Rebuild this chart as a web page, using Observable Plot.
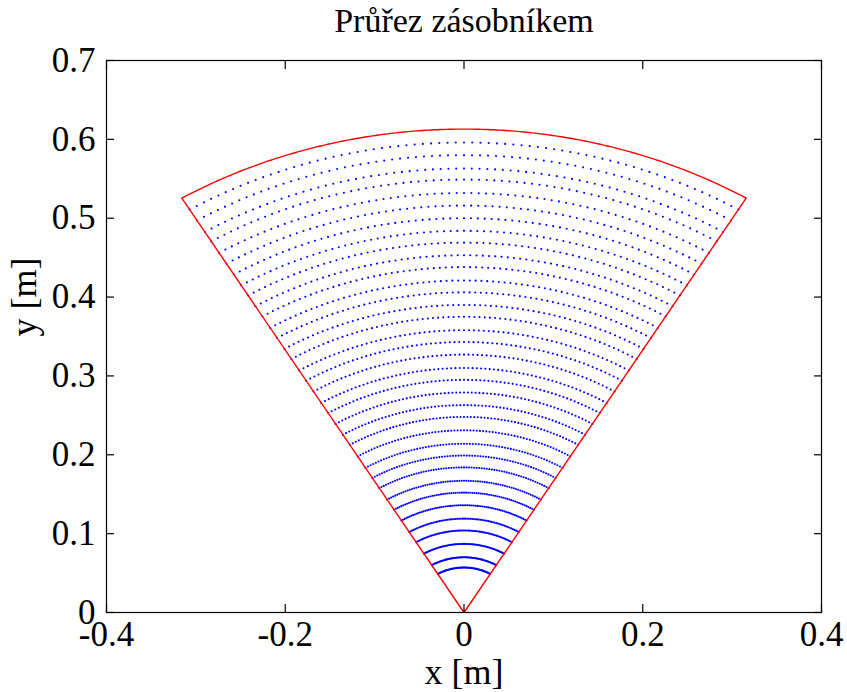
<!DOCTYPE html>
<html>
<head>
<meta charset="utf-8">
<script src="https://cdn.jsdelivr.net/npm/d3@7"></script>
<script src="https://cdn.jsdelivr.net/npm/@observablehq/plot@0.6"></script>
<style>
  html, body { margin: 0; padding: 0; background: #fff; }
  #chart svg { display: block; }
</style>
</head>
<body>
<div id="chart"></div>
<script>
// ---- data ----
const title = "Průřez zásobníkem";
const xLabel = "x [m]";
const yLabel = "y [m]";
const xTicks = [-0.4, -0.2, 0, 0.2, 0.4];
const yTicks = [0, 0.1, 0.2, 0.3, 0.4, 0.5, 0.6, 0.7];
// radii of the blue (layer) arcs, read at x = 0
const layerRadii = [0.596, 0.580, 0.563, 0.549, 0.532, 0.516, 0.500, 0.484, 0.469, 0.453,
  0.438, 0.421, 0.406, 0.390, 0.375, 0.358, 0.343, 0.327, 0.310, 0.295,
  0.279, 0.263, 0.248, 0.231, 0.214, 0.199, 0.184, 0.167, 0.152, 0.136,
  0.119, 0.104, 0.087, 0.070, 0.057];
// outline of the sector (red)
const outerRadius = 0.613;
const halfAngleDeg = 31;
const pointsPerArc = 70;

// ---- geometry built from the values above ----
const toRad = Math.PI / 180;
function arc(r, n) {
  const pts = [];
  for (let i = 0; i <= n; i++) {
    const a = (-halfAngleDeg + (2 * halfAngleDeg) * i / n) * toRad;
    pts.push({x: r * Math.sin(a), y: r * Math.cos(a), r});
  }
  return pts;
}
const layerPoints = layerRadii.flatMap(r => arc(r, pointsPerArc));
const outline = [{x: 0, y: 0}, ...arc(outerRadius, 200), {x: 0, y: 0}];

const font = "'Liberation Serif', 'Times New Roman', serif";

const chart = Plot.plot({
  width: 847,
  height: 692,
  marginLeft: 106,
  marginRight: 26,
  marginTop: 60,
  marginBottom: 80,
  style: {fontFamily: font, background: "white", color: "black"},
  x: {domain: [-0.4, 0.4]},
  y: {domain: [0, 0.7]},
  marks: [
    Plot.dot(layerPoints, {x: "x", y: "y", r: 1.05, fill: "#0000ff", stroke: null}),
    Plot.line(outline, {x: "x", y: "y", stroke: "#ff0000", strokeWidth: 1.4, curve: "linear"}),
    Plot.frame({stroke: "black", strokeWidth: 1.2}),
    // inward ticks on all four sides
    Plot.axisX({anchor: "bottom", ticks: xTicks, tickSize: -8, tickFormat: () => "", strokeWidth: 1.2, label: null}),
    Plot.axisX({anchor: "top", ticks: xTicks, tickSize: -8, tickFormat: () => "", strokeWidth: 1.2, label: null}),
    Plot.axisY({anchor: "left", ticks: yTicks, tickSize: -8, tickFormat: () => "", strokeWidth: 1.2, label: null}),
    Plot.axisY({anchor: "right", ticks: yTicks, tickSize: -8, tickFormat: () => "", strokeWidth: 1.2, label: null}),
    // tick labels
    Plot.axisX({anchor: "bottom", ticks: xTicks, tickSize: 0, tickPadding: 9, tickFormat: d => String(d),
      fontSize: 35, label: null}),
    Plot.axisY({anchor: "left", ticks: yTicks, tickSize: 0, tickPadding: 11, tickFormat: d => String(d),
      fontSize: 35, label: null}),
    // title and axis labels
    Plot.text([title], {frameAnchor: "top", dy: -53, fontSize: 34, text: d => d}),
    Plot.text([xLabel], {frameAnchor: "bottom", dy: 71, fontSize: 36, text: d => d}),
    Plot.text([yLabel], {frameAnchor: "left", dx: -82, rotate: -90, fontSize: 36, text: d => d})
  ]
});
document.getElementById("chart").appendChild(chart);
</script>
</body>
</html>
